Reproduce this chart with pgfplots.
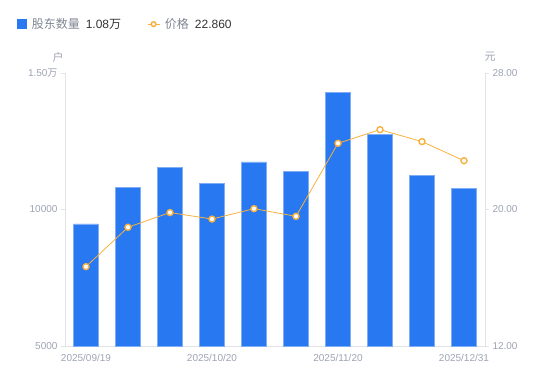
\documentclass[border=0pt]{standalone}
\usepackage{pgfplots}
\pgfplotsset{compat=1.18}
\usepackage{fontspec}
\setmainfont{Liberation Sans}
\newfontfamily\cjk{Noto Sans CJK SC}
\definecolor{barblue}{HTML}{2878F2}
\definecolor{baredge}{HTML}{7FAEF6}
\definecolor{lineorange}{HTML}{F8B13C}
\definecolor{ticktext}{HTML}{9EA3B3}
\definecolor{axisgray}{HTML}{E3E3E6}
\definecolor{legtext}{HTML}{7F8592}
\definecolor{valtext}{HTML}{333333}
\begin{document}
\begin{tikzpicture}[x=1pt,y=1pt]
\useasboundingbox (0,0) rectangle (550,381);
\pgfplotsset{base/.style={
  scale only axis, width=420pt, height=273pt,
  at={(65pt,35pt)}, anchor=south west,
  xmin=-0.5, xmax=9.5,
  tick label style={font=\fontsize{10}{12}\selectfont, text=ticktext},
  /pgf/number format/assume math mode=true,
  axis line style={axisgray, line width=0.8pt},
  major tick length=4pt, tick align=outside,
  every tick/.style={axisgray, line width=0.8pt},
  scaled y ticks=false,
  clip=false,
}}
\begin{axis}[base,
  axis y line*=left, axis x line*=bottom,
  ymin=5000, ymax=15000,
  ytick={5000,10000,15000},
  yticklabels={5000,10000,{1.50{\cjk 万}}},
  xtick={0,3,6,9},
  xticklabels={2025/09/19,2025/10/20,2025/11/20,2025/12/31},
  x tick style={draw=none},
  xticklabel style={yshift=-1pt},
]
\addplot[ybar, bar width=25pt, fill=barblue, draw=baredge, line width=0.6pt]
coordinates {(0,9470) (1,10810) (2,11550) (3,10950) (4,11740) (5,11410) (6,14290) (7,12740) (8,11250) (9,10760)};
\end{axis}
\begin{axis}[base,
  axis y line*=right, axis x line=none,
  ymin=12, ymax=28,
  ytick={12,20,28},
  yticklabel style={/pgf/number format/.cd, fixed, fixed zerofill, precision=2},
  legend columns=2,
  legend cell align=left,
  legend style={draw=none, fill=none, at={(-0.121,1.179)}, anchor=west,
    font=\fontsize{12}{14}\selectfont,
    /tikz/every odd column/.append style={column sep=3pt},
    /tikz/every even column/.append style={column sep=24pt}},
]
\addlegendimage{legend image code/.code={\fill[barblue] (0pt,-4.5pt) rectangle (9pt,4.5pt);}}
\addlegendentry{{\cjk\color{legtext}股东数量}\hspace{6pt}{\color{valtext}1.08{\cjk 万}}}
\addplot[lineorange, line width=0.8pt, mark=*, mark size=3pt,
  mark options={fill=white, draw=lineorange, line width=1.4pt},
  legend image code/.code={
    \draw[lineorange, line width=0.8pt] (0pt,0pt)--(12pt,0pt);
    \draw[lineorange, fill=white, line width=1.4pt] (6pt,0pt) circle (2.4pt);}]
coordinates {(0,16.65) (1,18.96) (2,19.82) (3,19.44) (4,20.05) (5,19.60) (6,23.88) (7,24.68) (8,23.98) (9,22.86)};
\addlegendentry{{\cjk\color{legtext}价格}\hspace{6pt}{\color{valtext}22.860}}
\end{axis}
\node[font=\fontsize{11}{13}\selectfont\cjk, text=ticktext] at (58,324) {户};
\node[font=\fontsize{11}{13}\selectfont\cjk, text=ticktext] at (490,324) {元};
\end{tikzpicture}
\end{document}
